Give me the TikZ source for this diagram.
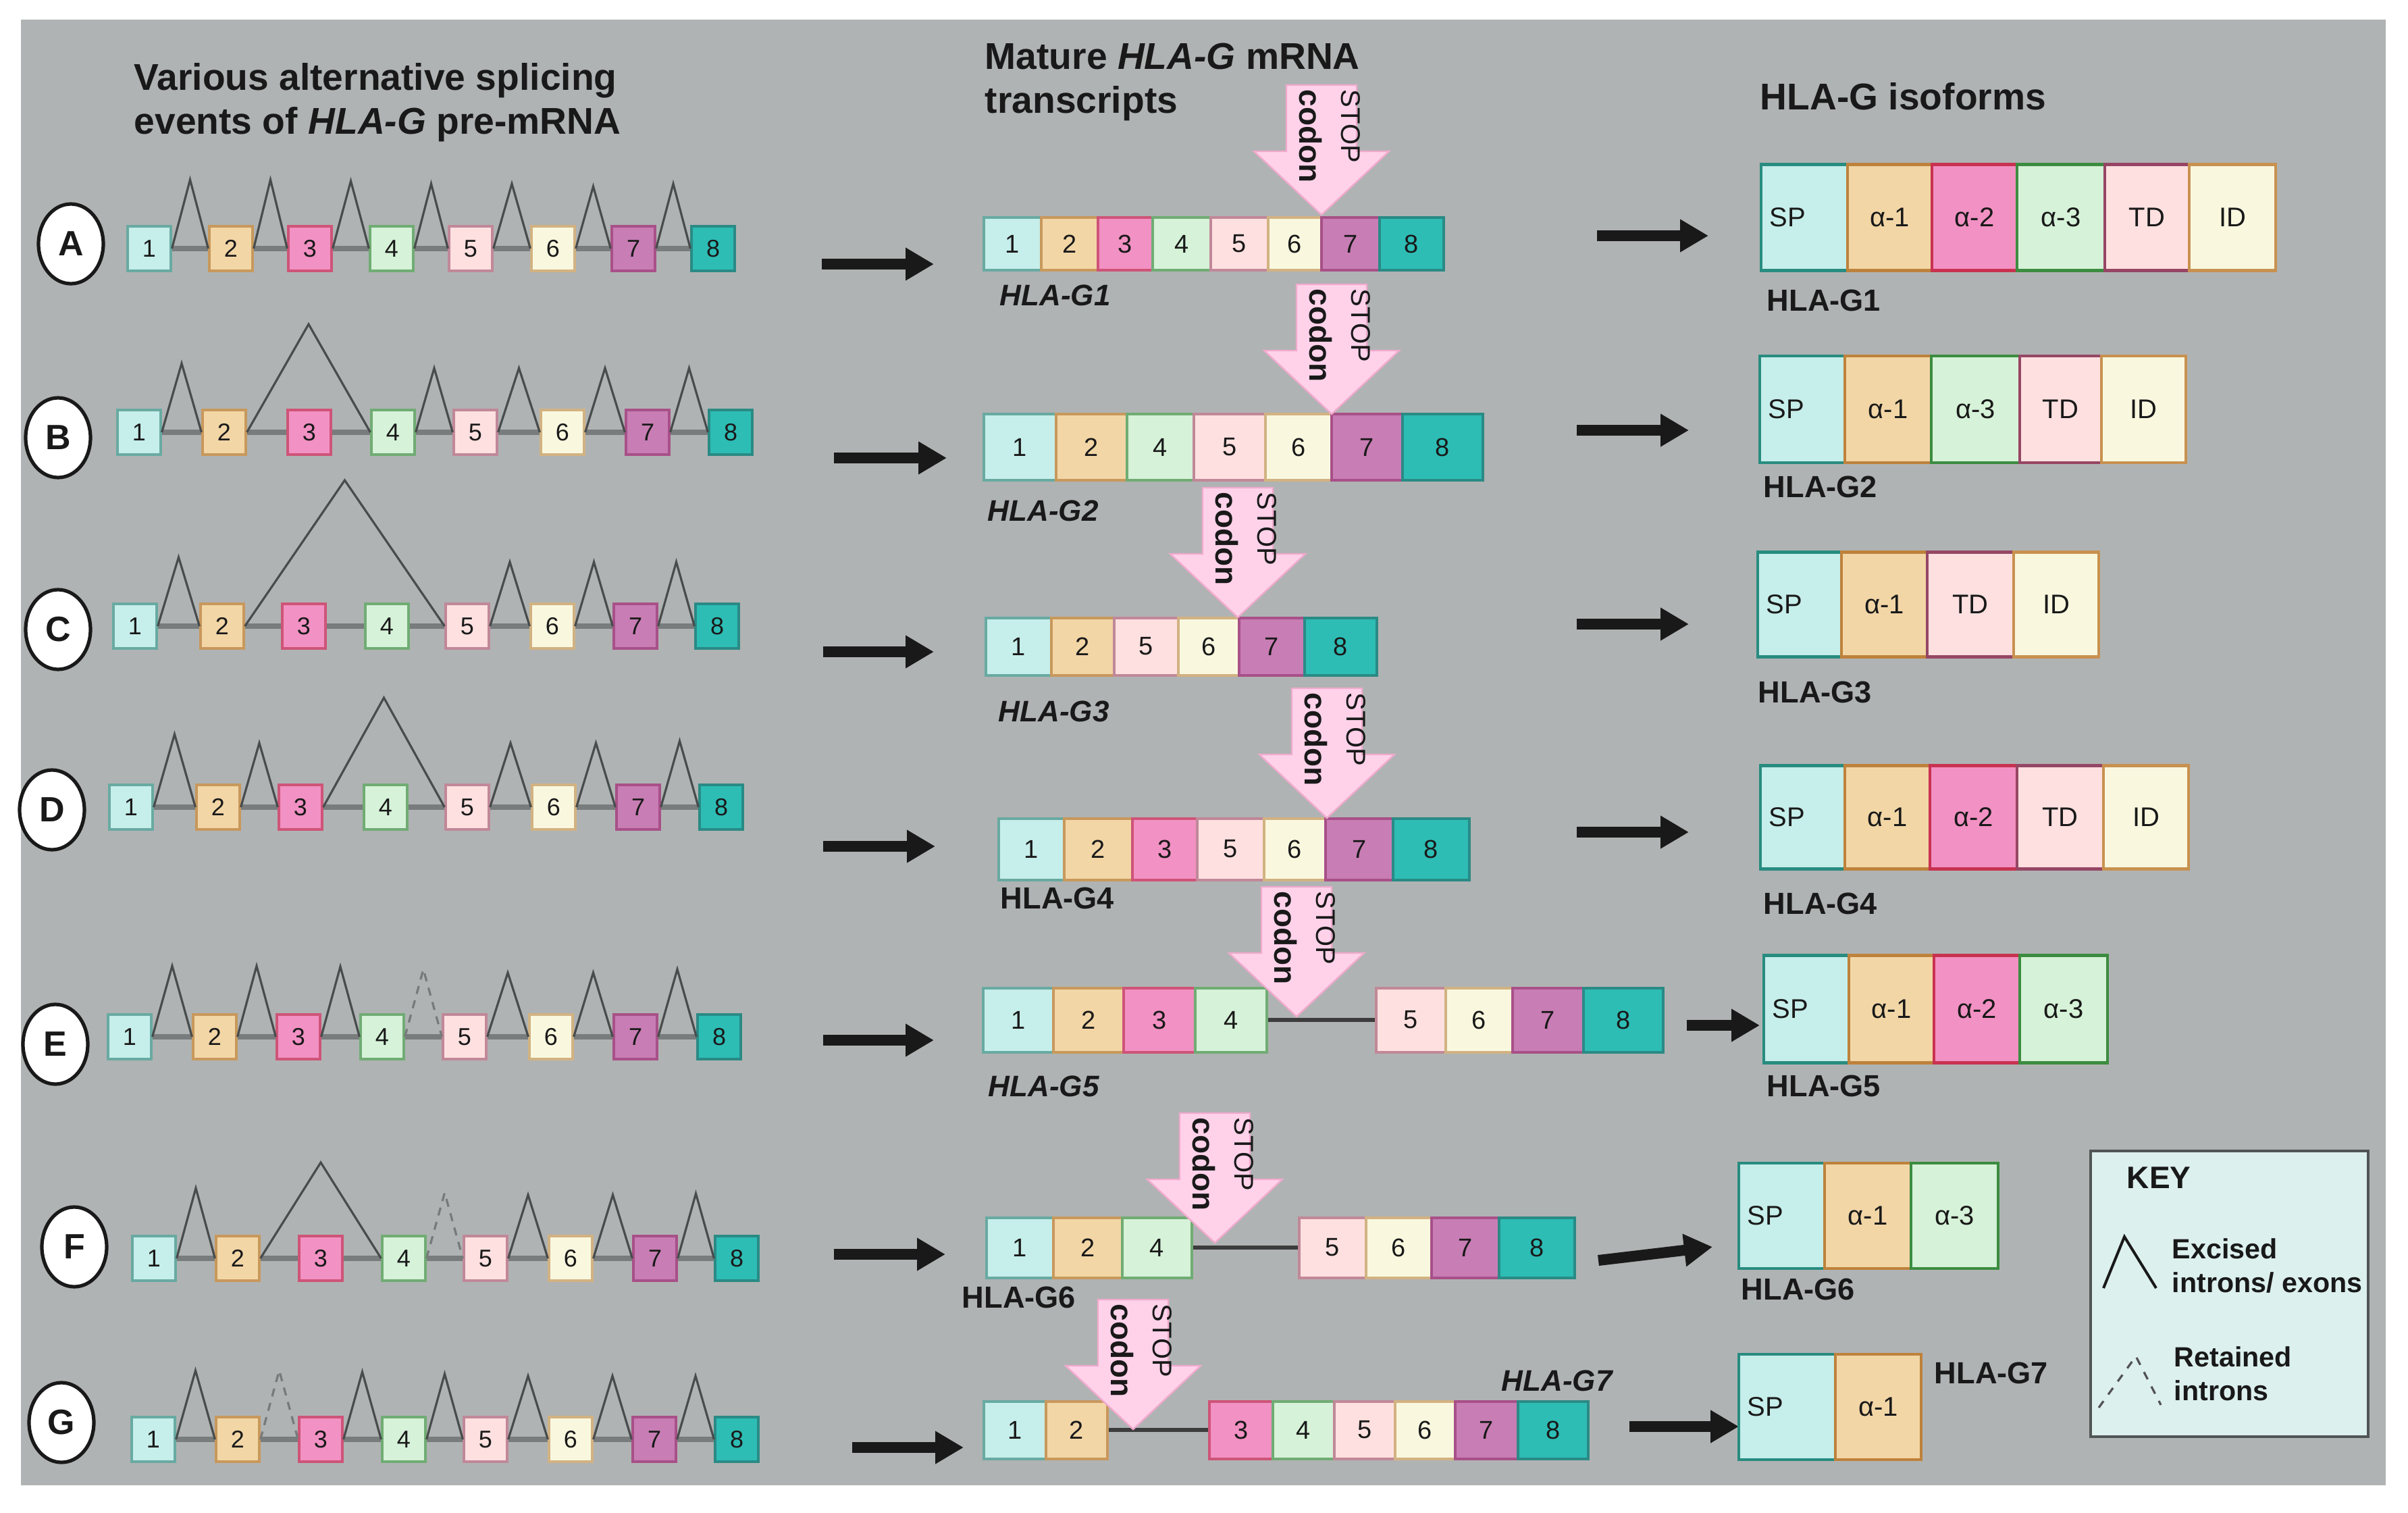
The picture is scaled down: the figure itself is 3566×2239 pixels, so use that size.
\documentclass[tikz,border=0pt]{standalone}
\usepackage{fontspec}
\setmainfont{Liberation Sans}
\usetikzlibrary{arrows.meta,calc,shapes.geometric}
\definecolor{bg}{RGB}{176,179,179}
\definecolor{ink}{RGB}{25,25,25}
\definecolor{cf1}{RGB}{198,238,234}\definecolor{cd1}{RGB}{104,170,162}
\definecolor{cf2}{RGB}{242,214,166}\definecolor{cd2}{RGB}{200,152,92}
\definecolor{cf3}{RGB}{242,145,195}\definecolor{cd3}{RGB}{206,84,120}
\definecolor{cf4}{RGB}{214,242,216}\definecolor{cd4}{RGB}{112,172,116}
\definecolor{cf5}{RGB}{255,224,224}\definecolor{cd5}{RGB}{192,136,152}
\definecolor{cf6}{RGB}{249,248,223}\definecolor{cd6}{RGB}{210,178,130}
\definecolor{cf7}{RGB}{200,125,180}\definecolor{cd7}{RGB}{168,80,136}
\definecolor{cf8}{RGB}{45,189,181}\definecolor{cd8}{RGB}{42,138,133}
\definecolor{id1}{RGB}{40,140,128}
\definecolor{id2}{RGB}{190,130,60}
\definecolor{id3}{RGB}{200,50,80}
\definecolor{id4}{RGB}{60,140,64}
\definecolor{id5}{RGB}{150,70,100}
\definecolor{id6}{RGB}{200,145,80}
\definecolor{pinkf}{RGB}{255,210,234}
\definecolor{pinkd}{RGB}{240,170,205}
\definecolor{keyf}{RGB}{220,240,238}
\definecolor{keyd}{RGB}{80,85,85}
\definecolor{peakc}{RGB}{72,76,76}
\definecolor{bbc}{RGB}{120,124,124}
\tikzset{
 pex/.style={draw, line width=0.8pt, minimum width=16pt, minimum height=16.5pt, inner sep=0pt, text=ink, font=\fontsize{9}{10}\selectfont},
 mex/.style={draw, line width=1pt, inner sep=0pt, text=ink, font=\fontsize{9.5}{10}\selectfont},
 seg/.style={draw, line width=1.2pt, inner sep=0pt, text=ink, font=\fontsize{10}{11}\selectfont},
 segtxt/.style={inner sep=0pt, text=ink, font=\fontsize{10}{11}\selectfont},
 peak/.style={draw=peakc, line width=0.8pt},
 rpeak/.style={draw=peakc!55!bg, line width=0.8pt, dash pattern=on 3pt off 2.5pt},
 backbone/.style={draw=bbc, line width=1.8pt},
 joinline/.style={draw=ink!85, line width=1.5pt},
 bigarrow/.style={draw=ink, line width=4pt, -{Triangle[length=10.5pt,width=11.5pt]}},
 circ/.style={ellipse, draw=ink, line width=1.3pt, fill=white, minimum width=24pt, minimum height=29.5pt, inner sep=0pt, text=ink, font=\bfseries\fontsize{13}{13}\selectfont},
 hdr/.style={align=left, inner sep=0pt, text=ink, anchor=north west, font=\bfseries\fontsize{13.8}{16.2}\selectfont},
 isolab/.style={inner sep=0pt, text=ink, anchor=west, font=\bfseries\fontsize{11.3}{12}\selectfont},
 trlab/.style={inner sep=0pt, text=ink, anchor=west, font=\bfseries\itshape\fontsize{11}{12}\selectfont},
 trlabup/.style={inner sep=0pt, text=ink, anchor=west, font=\bfseries\fontsize{11.3}{12}\selectfont},
 pinkarrow/.style={fill=pinkf, draw=pinkd, line width=0.6pt},
 stoptxt/.style={rotate=-90, inner sep=0pt, text=ink, font=\fontsize{10}{10}\selectfont},
 codontxt/.style={rotate=-90, inner sep=0pt, text=ink, font=\bfseries\fontsize{11.5}{11.5}\selectfont},
 keytxt/.style={align=left, inner sep=0pt, text=ink, anchor=north west, font=\bfseries\fontsize{10.3}{12.5}\selectfont},
}
% pre-mRNA row: prefix, y, list of centre x
\newcommand\prerow[3]{%
 \foreach \xx [count=\k] in {#3} {\node[pex, fill=cf\k, draw=cd\k] (#1\k) at (\xx,#2) {\k};}
 \foreach \k [evaluate=\k as \m using {int(\k+1)}] in {1,...,7} {\draw[backbone] (#1\k.east) -- (#1\m.west);}%
}
% peak: [style] from, to, height
\newcommand\pk[4][peak]{\draw[#1] (#2.east) -- ($(#2.east)!.5!(#3.west)+(0,-#4)$) -- (#3.west);}
% mature mRNA row: prefix, cy, h, list left/right/exon
\newcommand\mrow[4]{%
 \foreach \lft/\rgt/\k in {#4} {\node[mex, fill=cf\k, draw=cd\k, minimum width={(\rgt-\lft)*0.25pt}, minimum height={#3*0.25pt}] (#1\k) at ({(\lft+\rgt)/2},#2) {\k};}%
}
% isoform row: prefix, cy, h, list left/right/colour/text
\newcommand\irow[4]{%
 \foreach \lft/\rgt/\k/\lab in {#4} {\node[seg, fill=cf\k, draw=id\k, minimum width={(\rgt-\lft)*0.25pt}, minimum height={#3*0.25pt}] (#1\k) at ({(\lft+\rgt)/2},#2) {\lab};}%
 \node[segtxt, anchor=west] (#1sp) at ($(#11.west)+(14,0)$) {SP};%
}
% stop arrow: name, tip x, tip y
\newcommand\stoparrow[3]{%
 \coordinate (#1) at (#2,#3);
 \draw[pinkarrow] (#1) -- ++(-100,-94) -- ++(48,0) -- ++(0,-98) -- ++(104,0) -- ++(0,98) -- ++(48,0) -- cycle;
 \node[stoptxt, anchor=base west] (#1s) at ($(#1)+(29,-186)$) {STOP};
 \node[codontxt, anchor=base west] (#1c) at ($(#1)+(-33,-186)$) {codon};%
}
% black arrow: name, x1, y1, x2, y2
\newcommand\barrow[5]{%
 \coordinate (#1s) at (#2,#3); \coordinate (#1e) at (#4,#5);
 \draw[bigarrow] (#1s) -- (#1e);%
}
\begin{document}
\begin{tikzpicture}[x=0.25pt,y=-0.25pt]
\useasboundingbox (0,0) rectangle (3566,2239);
\fill[white] (0,0) rectangle (3566,2239);
\fill[bg] (31,29) rectangle (3533,2199);

% headers
\node[hdr] (h1) at (198,93) {Various alternative splicing\\events of \textit{HLA-G} pre-mRNA};
\node[hdr] (h2) at (1458,63) {Mature \textit{HLA-G} mRNA\\transcripts};
\node[hdr] (h3) at (2606,122) {HLA-G isoforms};

% row letters
\node[circ] (cA) at (105,361) {A};
\node[circ] (cB) at (86,648) {B};
\node[circ] (cC) at (86,932) {C};
\node[circ] (cD) at (77,1199) {D};
\node[circ] (cE) at (82,1546) {E};
\node[circ] (cF) at (110,1846) {F};
\node[circ] (cG) at (91,2106) {G};

% pre-mRNA rows
\prerow{pA}{368}{221,342,459,580,697,819,938,1056}
\prerow{pB}{640}{206,332,458,582,704,833,959,1082}
\prerow{pC}{927}{200,329,450,573,692,818,941,1062}
\prerow{pD}{1195}{194,323,445,571,692,820,945,1068}
\prerow{pE}{1535}{192,318,442,566,688,816,941,1065}
\prerow{pF}{1863}{228,352,475,598,719,845,970,1091}
\prerow{pG}{2131}{227,352,475,598,719,845,969,1091}

\pk{pA1}{pA2}{102}\pk{pA2}{pA3}{102}\pk{pA3}{pA4}{100}\pk{pA4}{pA5}{96}\pk{pA5}{pA6}{96}\pk{pA6}{pA7}{92}\pk{pA7}{pA8}{96}
\pk{pB1}{pB2}{102}\pk{pB2}{pB4}{160}\pk{pB4}{pB5}{95}\pk{pB5}{pB6}{95}\pk{pB6}{pB7}{95}\pk{pB7}{pB8}{95}
\pk{pC1}{pC2}{102}\pk{pC2}{pC5}{216}\pk{pC5}{pC6}{95}\pk{pC6}{pC7}{95}\pk{pC7}{pC8}{95}
\pk{pD1}{pD2}{108}\pk{pD2}{pD3}{95}\pk{pD3}{pD5}{162}\pk{pD5}{pD6}{95}\pk{pD6}{pD7}{95}\pk{pD7}{pD8}{98}
\pk{pE1}{pE2}{105}\pk{pE2}{pE3}{105}\pk{pE3}{pE4}{104}\pk[rpeak]{pE4}{pE5}{100}\pk{pE5}{pE6}{95}\pk{pE6}{pE7}{95}\pk{pE7}{pE8}{100}
\pk{pF1}{pF2}{104}\pk{pF2}{pF4}{142}\pk[rpeak]{pF4}{pF5}{97}\pk{pF5}{pF6}{94}\pk{pF6}{pF7}{94}\pk{pF7}{pF8}{96}
\pk{pG1}{pG2}{102}\pk[rpeak]{pG2}{pG3}{102}\pk{pG3}{pG4}{100}\pk{pG4}{pG5}{97}\pk{pG5}{pG6}{94}\pk{pG6}{pG7}{94}\pk{pG7}{pG8}{94}

% left arrows
\barrow{lA}{1217}{391}{1383}{391}
\barrow{lB}{1235}{678}{1402}{678}
\barrow{lC}{1219}{965}{1383}{965}
\barrow{lD}{1219}{1253}{1385}{1253}
\barrow{lE}{1219}{1540}{1383}{1540}
\barrow{lF}{1235}{1857}{1400}{1857}
\barrow{lG}{1262}{2143}{1427}{2143}

% mature transcripts
\mrow{mA}{361}{78}{1457/1542/1, 1542/1626/2, 1626/1707/3, 1707/1793/4, 1793/1878/5, 1878/1957/6, 1957/2043/7, 2043/2138/8}
\mrow{mB}{662}{98}{1457/1564/1, 1564/1669/2, 1669/1768/4, 1768/1874/5, 1874/1972/6, 1972/2077/7, 2077/2196/8}
\mrow{mC}{957}{85}{1460/1557/1, 1557/1650/2, 1650/1745/5, 1745/1835/6, 1835/1932/7, 1932/2039/8}
\mrow{mD}{1257}{91}{1479/1576/1, 1576/1677/2, 1677/1773/3, 1773/1872/5, 1872/1963/6, 1963/2063/7, 2063/2176/8}
\mrow{mE}{1510}{95}{1456/1560/1, 1560/1664/2, 1664/1770/3, 1770/1876/4, 2038/2141/5, 2141/2240/6, 2240/2345/7, 2345/2463/8}
\draw[joinline] (mE4.east) -- (mE5.west);
\mrow{mF}{1847}{89}{1461/1560/1, 1560/1662/2, 1662/1765/4, 1924/2023/5, 2023/2120/6, 2120/2220/7, 2220/2332/8}
\draw[joinline] (mF4.east) -- (mF5.west);
\mrow{mG}{2117}{85}{1457/1549/1, 1549/1640/2, 1791/1885/3, 1885/1976/4, 1976/2066/5, 2066/2155/6, 2155/2248/7, 2248/2352/8}
\draw[joinline] (mG2.east) -- (mG3.west);

% stop codon arrows
\stoparrow{sA}{1957}{318}
\stoparrow{sB}{1972}{613}
\stoparrow{sC}{1833}{914}
\stoparrow{sD}{1965}{1211}
\stoparrow{sE}{1920}{1505}
\stoparrow{sF}{1799}{1840}
\stoparrow{sG}{1678}{2116}

% transcript labels
\node[trlab] (tA) at (1480,437) {HLA-G1};
\node[trlab] (tB) at (1462,756) {HLA-G2};
\node[trlab] (tC) at (1478,1053) {HLA-G3};
\node[trlabup] (tD) at (1481,1330) {HLA-G4};
\node[trlab] (tE) at (1463,1608) {HLA-G5};
\node[trlabup] (tF) at (1424,1921) {HLA-G6};
\node[trlab] (tG) at (2223,2044) {HLA-G7};

% right arrows
\barrow{rA}{2365}{349}{2530}{349}
\barrow{rB}{2335}{637}{2501}{637}
\barrow{rC}{2335}{924}{2501}{924}
\barrow{rD}{2335}{1232}{2501}{1232}
\barrow{rE}{2498}{1518}{2606}{1518}
\barrow{rF}{2367}{1866}{2536}{1846}
\barrow{rG}{2413}{2112}{2575}{2112}

% isoforms
\irow{iA}{322}{157}{2608/2736/1/{}, 2736/2861/2/α-1, 2861/2987/3/α-2, 2987/3117/4/α-3, 3117/3242/5/TD, 3242/3370/6/ID}
\irow{iB}{606}{158}{2606/2732/1/{}, 2732/2860/2/α-1, 2860/2991/4/α-3, 2991/3112/5/TD, 3112/3237/6/ID}
\irow{iC}{895}{155}{2603/2727/1/{}, 2727/2854/2/α-1, 2854/2982/5/TD, 2982/3108/6/ID}
\irow{iD}{1210}{153}{2607/2732/1/{}, 2732/2858/2/α-1, 2858/2987/3/α-2, 2987/3115/5/TD, 3115/3241/6/ID}
\irow{iE}{1494}{159}{2612/2738/1/{}, 2738/2864/2/α-1, 2864/2991/3/α-2, 2991/3121/4/α-3}
\irow{iF}{1800}{156}{2575/2702/1/{}, 2702/2830/2/α-1, 2830/2959/4/α-3}
\irow{iG}{2083}{156}{2575/2718/1/{}, 2718/2845/2/α-1}

\node[isolab] (lbA) at (2616,445) {HLA-G1};
\node[isolab] (lbB) at (2611,721) {HLA-G2};
\node[isolab] (lbC) at (2603,1025) {HLA-G3};
\node[isolab] (lbD) at (2611,1338) {HLA-G4};
\node[isolab] (lbE) at (2616,1608) {HLA-G5};
\node[isolab] (lbF) at (2578,1909) {HLA-G6};
\node[isolab] (lbG) at (2864,2033) {HLA-G7};

% key
\node[draw=keyd, fill=keyf, line width=1pt, minimum width=102.75pt, minimum height=105.75pt, inner sep=0pt] (key) at (3301.5,1915.5) {};
\node[inner sep=0pt, anchor=west, text=ink, font=\bfseries\fontsize{11.5}{12}\selectfont] (keyt) at (3149,1744) {KEY};
\coordinate (k1a) at (3115,1907); \coordinate (k1b) at (3146,1831); \coordinate (k1c) at (3193,1907);
\draw[draw=ink, line width=1pt] (k1a) -- (k1b) -- (k1c);
\node[keytxt] (kt1) at (3216,1833) {Excised\\introns/ exons};
\coordinate (k2a) at (3108,2084); \coordinate (k2b) at (3163,2008); \coordinate (k2c) at (3200,2080);
\draw[draw=ink!75, line width=0.8pt, dash pattern=on 3pt off 3pt] (k2a) -- (k2b) -- (k2c);
\node[keytxt] (kt2) at (3219,1993) {Retained\\introns};
\end{tikzpicture}
\end{document}
